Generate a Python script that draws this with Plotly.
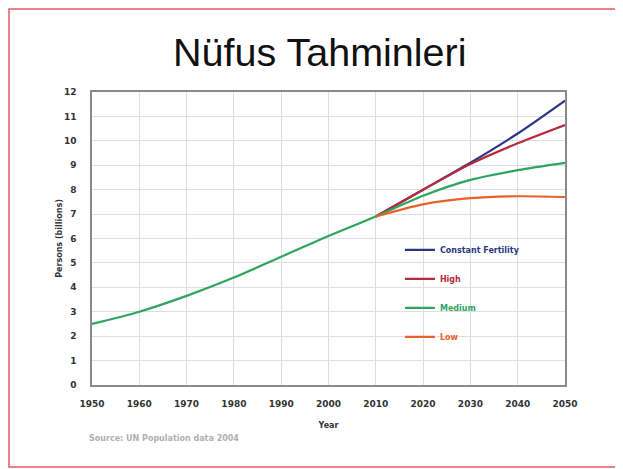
import plotly.graph_objects as go

# values (billions of persons)
years = [1950, 1960, 1970, 1980, 1990, 2000, 2010, 2020, 2030, 2040, 2050]
medium = [2.5, 3.0, 3.65, 4.4, 5.25, 6.1, 6.9, 7.75, 8.4, 8.8, 9.1]

proj_years = [2010, 2020, 2030, 2040, 2050]
constant = [6.9, 8.0, 9.1, 10.3, 11.65]
high = [6.9, 8.0, 9.05, 9.9, 10.65]
low = [6.9, 7.4, 7.65, 7.73, 7.7]

series = [
    ('Constant Fertility', proj_years, constant, '#2c3585'),
    ('High', proj_years, high, '#b52a3c'),
    ('Medium', years, medium, '#2ea55c'),
    ('Low', proj_years, low, '#e8602c'),
]

fig = go.Figure()
for name, xs, ys, color in series:
    fig.add_trace(go.Scatter(
        x=xs, y=ys, mode='lines', legendgroup=name,
        name=f'<span style="color:{color}">{name}</span>',
        line=dict(color=color, width=2.2, shape='spline', smoothing=0.8),
    ))

tick_font = dict(family='DejaVu Sans', size=9, color='#333', weight='bold')
label_font = dict(family='DejaVu Sans', size=8, color='#333', weight='bold')

fig.update_xaxes(
    range=[1950, 2050], tickvals=list(range(1950, 2051, 10)),
    showgrid=True, gridcolor='#dedede', gridwidth=1,
    showline=True, linecolor='#8a8a8a', linewidth=1.5, mirror=True,
    tickfont=tick_font, ticklabelstandoff=9, zeroline=False,
    title=dict(text='Year', font=label_font, standoff=15),
)
fig.update_yaxes(
    range=[0, 12], tickvals=list(range(0, 13)),
    showgrid=True, gridcolor='#dedede', gridwidth=1,
    showline=True, linecolor='#8a8a8a', linewidth=1.5, mirror=True,
    tickfont=tick_font, ticklabelstandoff=12, zeroline=False,
    title=dict(text='Persons (billions)', font=label_font, standoff=0),
)

fig.add_annotation(
    text='Source: UN Population data 2004', xref='paper', yref='paper',
    x=-0.01, y=-0.184, xanchor='left', yanchor='middle', showarrow=False,
    font=dict(family='DejaVu Sans', size=8, color='#b0b0b0', weight='bold'),
)

# red frame round the whole picture (kept inside the figure's own area)
fig.add_shape(type='rect', xref='paper', yref='paper',
              x0=-0.1755, x1=1.11, y0=-0.28, y1=1.283,
              line=dict(color='#ef5560', width=1.5))

# the page body adds an 8px margin, so the figure is 8px smaller than the window
fig.update_layout(
    width=615, height=461,
    margin=dict(l=84, r=58, t=84, b=84),
    paper_bgcolor='white', plot_bgcolor='white',
    title=dict(text='Nüfus Tahminleri', x=0.507, y=0.905, xanchor='center', yanchor='middle',
               font=dict(family='Liberation Sans, Arial', size=39.5, color='#111')),
    legend=dict(x=0.651, y=0.511, xanchor='left', yanchor='top',
                bgcolor='rgba(0,0,0,0)', tracegroupgap=10,
                font=dict(family='DejaVu Sans', size=8, weight='bold')),
)

fig.write_html('out.html')
